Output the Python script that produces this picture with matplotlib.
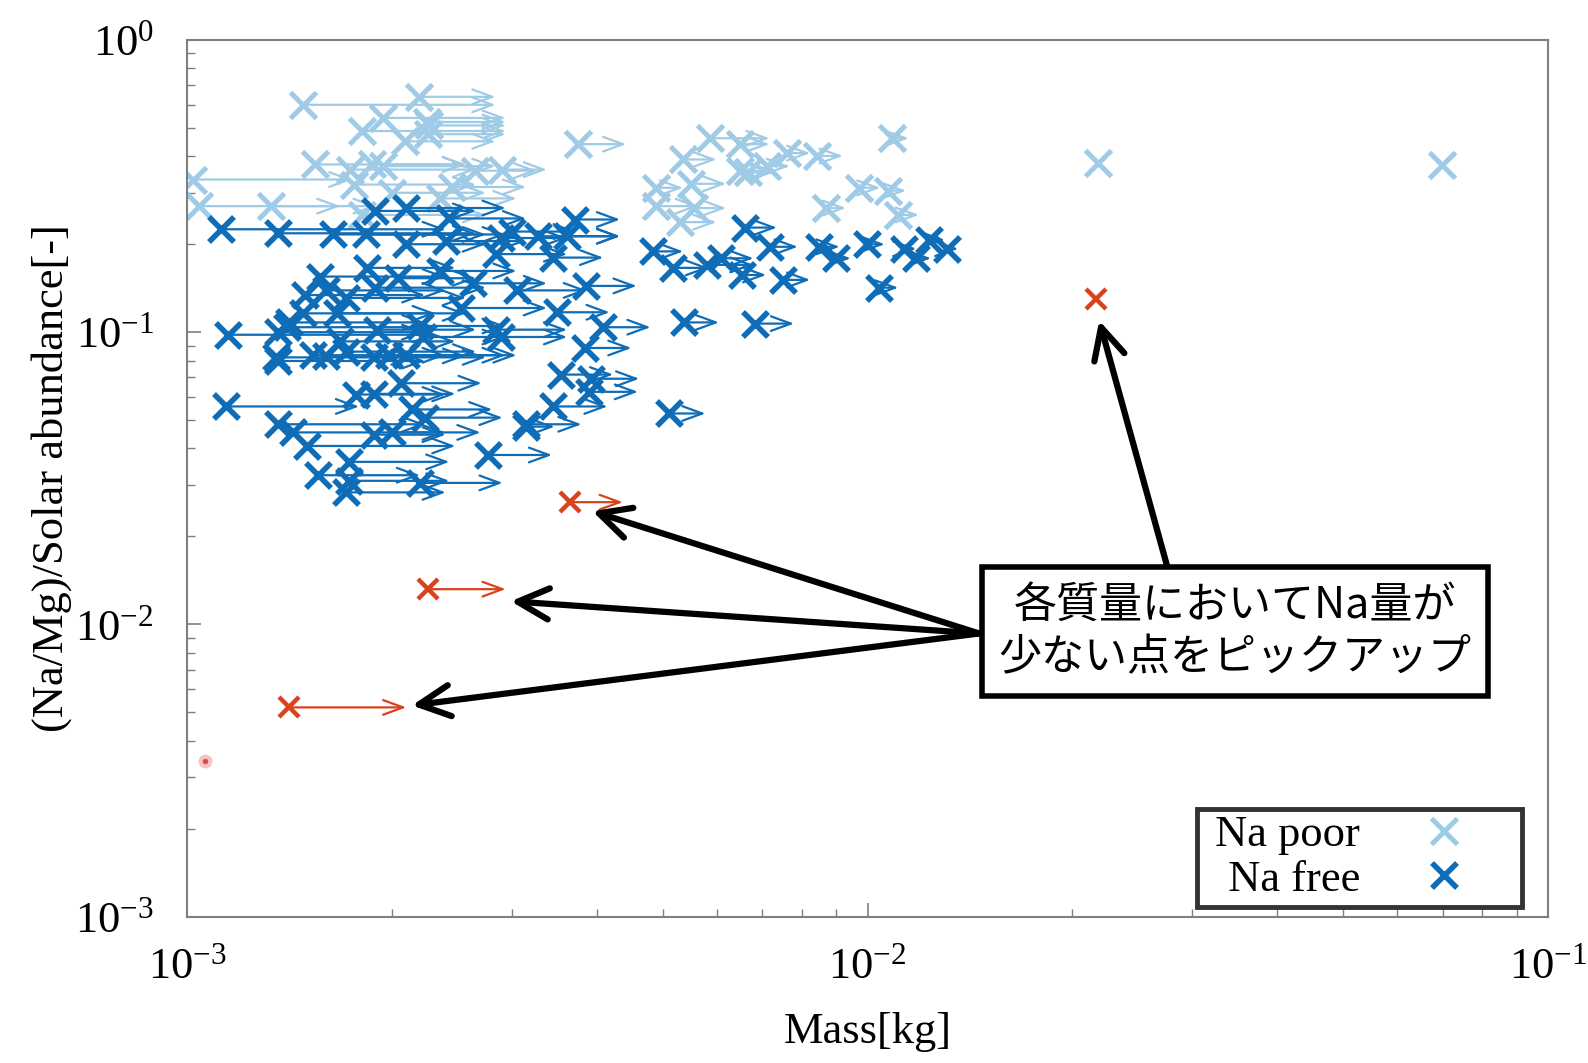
import matplotlib.pyplot as plt
import numpy as np

plt.rcParams['font.family'] = ['Liberation Serif', 'DejaVu Serif']
plt.rcParams['mathtext.fontset'] = 'custom'
plt.rcParams['mathtext.rm'] = 'Liberation Serif'

# Na poor: mass [kg], (Na/Mg)/solar, upper end of mass range [kg]
poor_mass = [1.48e-3, 2.19e-3, 1.94e-3, 2.25e-3, 2.27e-3, 1.81e-3, 2.09e-3, 2.26e-3,
             1.54e-3, 1.735e-3, 1.87e-3, 1.94e-3, 1.76e-3, 1.02e-3, 1.04e-3, 1.33e-3,
             2.65e-3, 2.90e-3, 2.45e-3, 2.00e-3, 2.35e-3, 1.81e-3,
             3.76e-3, 5.87e-3, 6.50e-3, 5.36e-3, 7.61e-3, 8.44e-3, 10.85e-3, 7.11e-3,
             6.50e-3, 6.67e-3, 4.89e-3, 5.50e-3, 4.89e-3, 5.55e-3, 5.30e-3, 9.70e-3,
             10.7e-3, 8.70e-3, 11.1e-3, 21.8e-3, 69.8e-3]
poor_ratio = [0.600, 0.639, 0.541, 0.524, 0.510, 0.488, 0.450, 0.476,
              0.375, 0.360, 0.375, 0.370, 0.320, 0.333, 0.270, 0.270,
              0.357, 0.360, 0.314, 0.300, 0.287, 0.252,
              0.440, 0.461, 0.440, 0.390, 0.410, 0.401, 0.461, 0.370,
              0.357, 0.352, 0.312, 0.322, 0.270, 0.266, 0.238, 0.312,
              0.305, 0.266, 0.252, 0.378, 0.372]
poor_mass_max = [2.84e-3, 2.84e-3, 2.94e-3, 2.94e-3, 2.94e-3, 2.94e-3, 2.84e-3, 2.94e-3,
                 2.57e-3, 2.66e-3, 2.57e-3, 2.84e-3, 2.66e-3, 1.75e-3, 1.68e-3, 1.90e-3,
                 3.27e-3, 3.38e-3, 3.15e-3, 2.75e-3, 3.05e-3, 2.75e-3,
                 4.42e-3, 7.18e-3, 7.18e-3, 6.00e-3, 8.24e-3, 9.20e-3, 11.5e-3, 7.69e-3,
                 7.28e-3, 7.28e-3, 5.36e-3, 6.20e-3, 5.65e-3, 6.20e-3, 6.00e-3, 10.45e-3,
                 11.4e-3, 9.30e-3, 11.9e-3, 21.8e-3, 69.8e-3]

# Na free
free_mass = [1.12e-3, 1.36e-3, 1.64e-3, 1.83e-3, 1.89e-3, 2.10e-3, 2.43e-3, 2.10e-3,
             2.40e-3, 2.89e-3, 3.00e-3, 1.84e-3, 1.57e-3, 2.04e-3, 2.35e-3, 2.63e-3,
             2.84e-3, 1.49e-3, 1.60e-3, 1.71e-3, 1.89e-3, 2.53e-3, 3.05e-3, 1.41e-3,
             1.48e-3, 1.90e-3, 2.20e-3, 2.84e-3, 1.15e-3, 1.36e-3, 1.40e-3, 1.66e-3,
             2.22e-3, 2.89e-3, 1.36e-3, 1.35e-3, 1.53e-3, 1.60e-3, 1.71e-3, 1.88e-3,
             1.98e-3, 2.10e-3, 1.68e-3, 1.14e-3, 1.77e-3, 1.88e-3, 2.06e-3, 2.14e-3,
             2.24e-3, 1.36e-3, 1.43e-3, 1.50e-3, 1.88e-3, 2.00e-3, 3.15e-3, 2.77e-3,
             1.73e-3, 1.56e-3, 1.73e-3, 1.71e-3, 2.20e-3,
             3.71e-3, 3.28e-3, 3.62e-3, 3.45e-3, 3.86e-3, 4.84e-3, 5.18e-3, 5.81e-3,
             6.10e-3, 6.60e-3, 7.18e-3, 6.55e-3, 7.52e-3, 8.50e-3, 9.00e-3, 9.97e-3,
             11.3e-3, 11.8e-3, 12.3e-3, 13.1e-3, 10.4e-3, 3.50e-3, 4.09e-3, 3.84e-3,
             5.38e-3, 3.55e-3, 3.92e-3, 3.90e-3, 3.45e-3, 5.10e-3, 3.15e-3, 6.83e-3]
free_ratio = [0.225, 0.218, 0.216, 0.216, 0.260, 0.266, 0.245, 0.200,
              0.205, 0.210, 0.221, 0.166, 0.155, 0.153, 0.162, 0.147,
              0.185, 0.134, 0.139, 0.131, 0.142, 0.121, 0.139, 0.108,
              0.116, 0.102, 0.105, 0.102, 0.098, 0.100, 0.104, 0.116,
              0.0963, 0.0963, 0.0797, 0.082, 0.0834, 0.083, 0.0858, 0.082,
              0.0834, 0.0834, 0.0930, 0.0557, 0.0612, 0.0615, 0.0669, 0.0544,
              0.0510, 0.0484, 0.0454, 0.0408, 0.0446, 0.0454, 0.0475, 0.0380,
              0.0360, 0.0324, 0.0310, 0.0283, 0.0305,
              0.243, 0.213, 0.213, 0.180, 0.144, 0.189, 0.166, 0.170,
              0.179, 0.228, 0.196, 0.157, 0.151, 0.196, 0.179, 0.200,
              0.193, 0.179, 0.207, 0.193, 0.142, 0.117, 0.104, 0.0883,
              0.108, 0.0716, 0.0693, 0.0625, 0.0557, 0.0527, 0.0484, 0.107]
free_mass_max = [2.40e-3, 2.66e-3, 2.75e-3, 2.94e-3, 2.66e-3, 2.94e-3, 3.15e-3, 2.75e-3,
                 3.15e-3, 3.62e-3, 3.74e-3, 2.48e-3, 2.40e-3, 2.66e-3, 3.05e-3, 3.38e-3,
                 3.62e-3, 2.24e-3, 2.40e-3, 2.57e-3, 2.75e-3, 3.38e-3, 3.87e-3, 2.24e-3,
                 2.32e-3, 2.66e-3, 2.94e-3, 3.62e-3, 2.32e-3, 2.24e-3, 2.32e-3, 2.57e-3,
                 2.94e-3, 3.62e-3, 2.24e-3, 2.16e-3, 2.40e-3, 2.57e-3, 2.66e-3, 2.75e-3,
                 2.94e-3, 3.05e-3, 2.48e-3, 1.79e-3, 2.40e-3, 2.48e-3, 2.71e-3, 2.81e-3,
                 2.91e-3, 2.24e-3, 2.40e-3, 2.48e-3, 2.40e-3, 2.70e-3, 3.47e-3, 3.44e-3,
                 2.43e-3, 2.20e-3, 2.43e-3, 2.40e-3, 2.91e-3,
                 4.33e-3, 4.33e-3, 4.33e-3, 4.09e-3, 4.58e-3, 5.36e-3, 5.85e-3, 6.80e-3,
                 6.80e-3, 7.36e-3, 7.90e-3, 7.10e-3, 8.24e-3, 9.10e-3, 9.45e-3, 10.6e-3,
                 11.8e-3, 12.4e-3, 13.0e-3, 13.6e-3, 11.1e-3, 4.18e-3, 4.80e-3, 4.50e-3,
                 6.05e-3, 4.23e-3, 4.62e-3, 4.60e-3, 4.15e-3, 5.78e-3, 3.80e-3, 7.80e-3]

# lowest Na at each mass
pick_mass = [3.66e-3, 2.26e-3, 1.41e-3, 21.7e-3]
pick_ratio = [0.0262, 0.0132, 0.0052, 0.130]
pick_mass_max = [4.37e-3, 2.94e-3, 2.10e-3, 21.7e-3]

odd_mass = [1.064e-3]
odd_ratio = [0.0034]

c_poor = '#9fcbe6'
c_free = '#0f6cb6'
c_pick = '#d8431c'

fig = plt.figure(figsize=(15.88, 10.63), dpi=100)
ax = fig.add_axes([0.1178, 0.1377, 0.857, 0.8247])
ax.set_xscale('log')
ax.set_yscale('log')
ax.set_xlim(1e-3, 1e-1)
ax.set_ylim(1e-3, 1e0)


def draw_group(mass, ratio, mass_max, color, ms, mew, z):
    for m, r, mm in zip(mass, ratio, mass_max):
        if mm > m:
            ax.annotate('', xy=(mm, r), xytext=(m, r),
                        arrowprops=dict(arrowstyle='->,head_length=0.6,head_width=0.22',
                                        color=color, lw=1.6, mutation_scale=24,
                                        shrinkA=0, shrinkB=0),
                        zorder=z)
    return ax.plot(mass, ratio, 'x', color=color, ms=ms, mew=mew, zorder=z + 0.5)[0]


h_poor = draw_group(poor_mass, poor_ratio, poor_mass_max, c_poor, 19, 3.6, 2)
h_free = draw_group(free_mass, free_ratio, free_mass_max, c_free, 18, 4.0, 3)
draw_group(pick_mass, pick_ratio, pick_mass_max, c_pick, 15, 3.2, 4)
ax.plot(odd_mass, odd_ratio, 'o', ms=7, mfc='#e8474a', mec='#f6c2c4', mew=3, zorder=4)

for s in ax.spines.values():
    s.set_color('#7f7f7f')
    s.set_linewidth(1.5)
ax.tick_params(which='both', direction='in', top=False, right=False, colors='#7f7f7f',
               labelcolor='black', labelsize=32)
ax.tick_params(which='major', length=10, width=1.2)
ax.tick_params(which='minor', length=6, width=1.0)
ax.tick_params(axis='x', which='major', pad=22)
ax.tick_params(axis='y', which='major', pad=24)

ax.set_xlabel('Mass[kg]', fontsize=32, labelpad=18)
ax.set_ylabel('(Na/Mg)/Solar abundance[-]', fontsize=32, labelpad=2)

leg = ax.legend([h_poor, h_free], [' Na poor', '  Na free'], loc='lower right',
                markerfirst=False, fontsize=32, frameon=True, fancybox=False,
                borderpad=0.15, handlelength=3.2, handletextpad=0.3,
                labelspacing=0.1, borderaxespad=0, bbox_to_anchor=(0.981, 0.0115))
leg.get_frame().set_edgecolor('black')
leg.get_frame().set_linewidth(3.5)

# callout pointing at the picked points
ax.text(0.770, 0.325, '各質量においてNa量が\n少ない点をピックアップ', transform=ax.transAxes,
        ha='center', va='center', fontsize=31, linespacing=1.25,
        family=['Noto Sans CJK JP', 'DejaVu Sans'], zorder=6,
        bbox=dict(boxstyle='square,pad=0.38', fc='white', ec='black', lw=4))

arrow_kw = dict(arrowstyle='->,head_length=0.7,head_width=0.35', color='black',
                lw=4.5, mutation_scale=32, shrinkA=0, shrinkB=0)
targets = [(3.94e-3, 0.0244), (2.99e-3, 0.0120), (2.14e-3, 0.00528)]
for t in targets:
    ax.annotate('', xy=t, xycoords='data', xytext=(0.582, 0.323), textcoords='axes fraction',
                arrowprops=arrow_kw, zorder=5)
ax.annotate('', xy=(0.0219, 0.1096), xycoords='data', xytext=(0.721, 0.395),
            textcoords='axes fraction', arrowprops=arrow_kw, zorder=5)

fig.savefig('out.png', dpi=100)
